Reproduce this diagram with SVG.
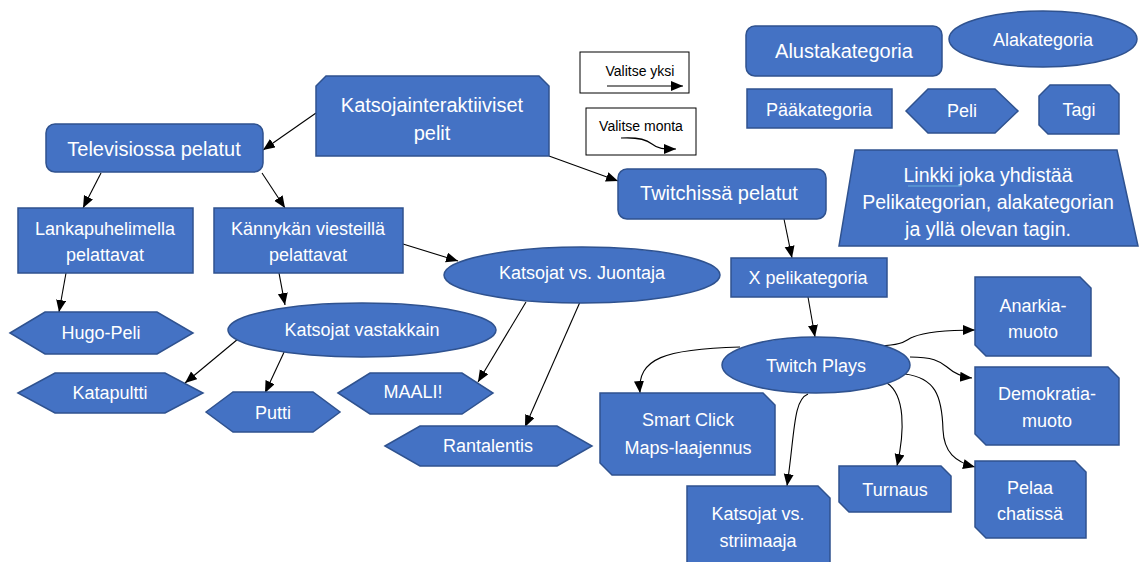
<svg xmlns="http://www.w3.org/2000/svg" width="1144" height="562" viewBox="0 0 1144 562">
<defs>
<marker id="ah" markerUnits="userSpaceOnUse" markerWidth="13" markerHeight="11" refX="12" refY="5" orient="auto">
<path d="M0,0 L12,5 L0,10 Z" fill="#000"/>
</marker>
<style>
.n{fill:#4472C4;stroke:#2F528F;stroke-width:1.5}
.t{fill:#fff;font-family:"Liberation Sans",Arial,sans-serif;font-size:18px;text-anchor:middle;dominant-baseline:central}
.b{font-size:20px}
.m{font-size:19.5px}
.k{fill:#000;font-family:"Liberation Sans",Arial,sans-serif;font-size:14px;text-anchor:middle;dominant-baseline:central}
.c{fill:none;stroke:#000;stroke-width:1.1;marker-end:url(#ah)}
.lg{fill:#fff;stroke:#000;stroke-width:1}
</style>
</defs>
<rect width="1144" height="562" fill="#fff"/>

<g id="connectors">
<path class="c" d="M316,113 L263,150"/>
<path class="c" d="M549,156 L618,181"/>
<path class="c" d="M101,173 L83,208"/>
<path class="c" d="M262,173 L285,208"/>
<path class="c" d="M66,273 L59,312"/>
<path class="c" d="M279,273 L285,305"/>
<path class="c" d="M403,244 L458,261"/>
<path class="c" d="M238,339 L185,383"/>
<path class="c" d="M286,348 L265,393"/>
<path class="c" d="M526,302 L478,382"/>
<path class="c" d="M580,302 L525,427"/>
<path class="c" d="M784,219 L792,258"/>
<path class="c" d="M808,297 L815,337"/>
<path class="c" d="M740,347 C665,349 637,358 640,393"/>
<path class="c" d="M808,394 C793,400 795,432 787,486"/>
<path class="c" d="M887,383 C905,395 905,430 897,466"/>
<path class="c" d="M905,374 C935,378 942,395 943,430 C944,452 955,462 975,467"/>
<path class="c" d="M880,346 C905,345 905,340 913,337 C925,332 945,330 975,330"/>
<path class="c" d="M910,357 C935,357 940,362 947,367 C955,374 962,377 972,378"/>
</g>

<g id="legend-yksi">
<rect class="lg" x="580" y="52" width="109" height="41"/>
<text class="k" x="640" y="71">Valitse yksi</text>
<path class="c" d="M607,86 L683,86"/>
</g>
<g id="legend-monta">
<rect class="lg" x="586" y="108" width="110" height="47"/>
<text class="k" x="641" y="126">Valitse monta</text>
<path class="c" d="M621,138 C640,137 647,140 652,144 C658,149 663,149 676,149"/>
</g>

<g id="alustakategoria">
<rect class="n" x="746" y="26" width="196" height="50" rx="9"/>
<text class="t b" x="844" y="51">Alustakategoria</text>
</g>
<g id="alakategoria">
<ellipse class="n" cx="1043" cy="39" rx="94" ry="28"/>
<text class="t" x="1043" y="40">Alakategoria</text>
</g>
<g id="paakategoria">
<rect class="n" x="747" y="89" width="145" height="39"/>
<text class="t" x="819" y="110">Pääkategoria</text>
</g>
<g id="peli">
<polygon class="n" points="906,111 928,89 995,89 1018,111 995,133 928,133"/>
<text class="t" x="962" y="111">Peli</text>
</g>
<g id="tagi">
<polygon class="n" points="1050,85 1110,85 1119,94 1119,134 1048,134 1039,125 1039,96"/>
<text class="t" x="1079" y="110">Tagi</text>
</g>
<g id="linkki">
<polygon class="n" points="855,150 1117,150 1138,246 839,246"/>
<text class="t m" x="988" y="175">Linkki joka yhdistää</text>
<text class="t m" x="988" y="202">Pelikategorian, alakategorian</text>
<text class="t m" x="988" y="229">ja yllä olevan tagin.</text>
<line x1="908" y1="186" x2="962" y2="186" stroke="#5B9BD5" stroke-width="1.5"/>
</g>

<g id="katsojainteraktiiviset">
<polygon class="n" points="326,76 539,76 549,86 549,156 316,156 316,86"/>
<text class="t b" x="432" y="105">Katsojainteraktiiviset</text>
<text class="t b" x="432" y="133">pelit</text>
</g>
<g id="televisiossa">
<rect class="n" x="46" y="124" width="217" height="48" rx="9"/>
<text class="t b" x="154" y="149">Televisiossa pelatut</text>
</g>
<g id="lankapuhelimella">
<rect class="n" x="18" y="208" width="175" height="65"/>
<text class="t" x="105" y="229">Lankapuhelimella</text>
<text class="t" x="105" y="255">pelattavat</text>
</g>
<g id="kannykan">
<rect class="n" x="214" y="208" width="189" height="65"/>
<text class="t" x="308" y="229">Kännykän viesteillä</text>
<text class="t" x="308" y="255">pelattavat</text>
</g>
<g id="hugo">
<polygon class="n" points="10,333 45,312 157,312 193,333 157,354 45,354"/>
<text class="t" x="101" y="333">Hugo-Peli</text>
</g>
<g id="vastakkain">
<ellipse class="n" cx="362" cy="330" rx="134" ry="27"/>
<text class="t" x="362" y="330">Katsojat vastakkain</text>
</g>
<g id="katapultti">
<polygon class="n" points="18,393 55,373 165,373 203,393 165,413 55,413"/>
<text class="t" x="110" y="393">Katapultti</text>
</g>
<g id="putti">
<polygon class="n" points="206,412 233,392 313,392 340,412 313,432 233,432"/>
<text class="t" x="273" y="413">Putti</text>
</g>
<g id="juontaja">
<ellipse class="n" cx="582" cy="275" rx="138" ry="28"/>
<text class="t" x="582" y="273">Katsojat vs. Juontaja</text>
</g>
<g id="maali">
<polygon class="n" points="338,393 370,373 462,373 493,393 462,414 370,414"/>
<text class="t" x="413" y="392">MAALI!</text>
</g>
<g id="rantalentis">
<polygon class="n" points="385,446 420,426 557,426 592,446 557,466 420,466"/>
<text class="t" x="488" y="446">Rantalentis</text>
</g>

<g id="twitchissa">
<rect class="n" x="618" y="169" width="208" height="50" rx="9"/>
<text class="t b" x="719" y="193">Twitchissä pelatut</text>
</g>
<g id="xpeli">
<rect class="n" x="731" y="258" width="156" height="39"/>
<text class="t" x="808" y="278">X pelikategoria</text>
</g>
<g id="twitchplays">
<ellipse class="n" cx="816" cy="365" rx="94" ry="28"/>
<text class="t" x="816" y="366">Twitch Plays</text>
</g>
<g id="smartclick">
<polygon class="n" points="600,393 763,393 775,405 775,475 612,475 600,463"/>
<text class="t" x="688" y="420">Smart Click</text>
<text class="t" x="688" y="448">Maps-laajennus</text>
</g>
<g id="striimaaja">
<polygon class="n" points="687,486 818,486 830,498 830,575 687,575"/>
<text class="t" x="758" y="514">Katsojat vs.</text>
<text class="t" x="758" y="541">striimaaja</text>
</g>
<g id="turnaus">
<polygon class="n" points="839,466 941,466 951,476 951,512 849,512 839,502"/>
<text class="t" x="895" y="490">Turnaus</text>
</g>
<g id="anarkia">
<polygon class="n" points="975,277 1080,277 1091,288 1091,356 986,356 975,345"/>
<text class="t" x="1033" y="306">Anarkia-</text>
<text class="t" x="1033" y="332">muoto</text>
</g>
<g id="demokratia">
<polygon class="n" points="975,367 1108,367 1119,378 1119,445 986,445 975,434"/>
<text class="t" x="1047" y="394">Demokratia-</text>
<text class="t" x="1047" y="421">muoto</text>
</g>
<g id="pelaa">
<polygon class="n" points="975,461 1075,461 1086,472 1086,538 986,538 975,527"/>
<text class="t" x="1030" y="488">Pelaa</text>
<text class="t" x="1030" y="514">chatissä</text>
</g>
</svg>
